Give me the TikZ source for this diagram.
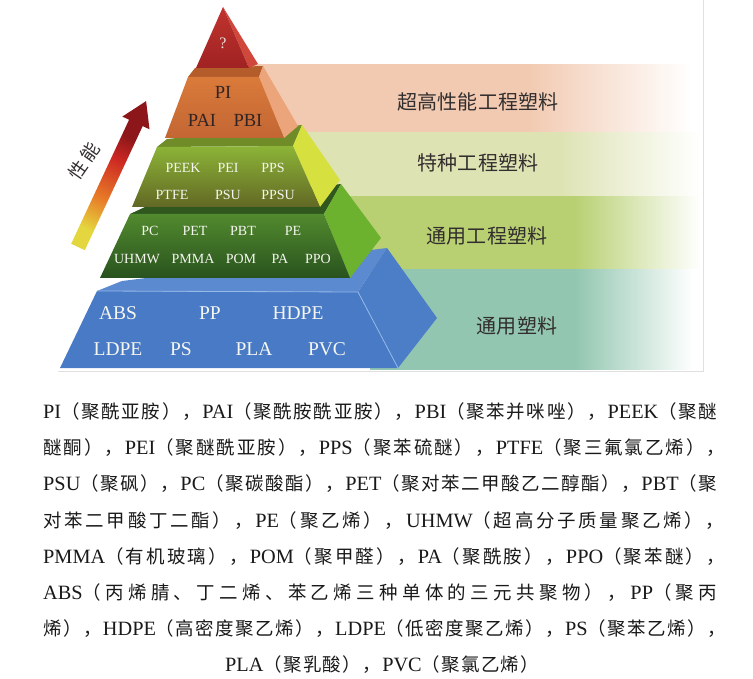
\documentclass[tikz,border=0pt]{standalone}
\usepackage{fontspec}
\setmainfont{Liberation Serif}
\newfontfamily\zhfont[Scale=0.91]{Noto Sans CJK SC}
\def\zhsp#1{\ifx#1\relax\else#1\hskip0pt plus 4pt\relax\expandafter\zhsp\fi}
\newcommand\zh[1]{{\zhfont\zhsp#1\relax}}
% band colours
\definecolor{bandA}{RGB}{242,202,178}
\definecolor{bandB}{RGB}{222,227,180}
\definecolor{bandC}{RGB}{184,208,114}
\definecolor{bandD}{RGB}{146,198,176}
% arrow colours
\definecolor{arY}{RGB}{228,214,62}
\definecolor{arO}{RGB}{232,125,40}
\definecolor{arR}{RGB}{205,40,35}
\definecolor{arD}{RGB}{140,22,25}
% pyramid colours
\definecolor{redFt}{RGB}{192,52,46}
\definecolor{redFb}{RGB}{160,34,34}
\definecolor{redS}{RGB}{208,72,60}
\definecolor{orT}{RGB}{180,92,42}
\definecolor{orFt}{RGB}{218,122,58}
\definecolor{orFb}{RGB}{194,102,52}
\definecolor{orS}{RGB}{236,165,122}
\definecolor{ygT}{RGB}{112,140,40}
\definecolor{ygFt}{RGB}{140,180,55}
\definecolor{ygFb}{RGB}{98,104,36}
\definecolor{ygS}{RGB}{214,224,62}
\definecolor{gT}{RGB}{48,88,30}
\definecolor{gFt}{RGB}{82,138,46}
\definecolor{gFb}{RGB}{40,82,30}
\definecolor{gS}{RGB}{108,178,46}
\definecolor{bT}{RGB}{92,138,208}
\definecolor{bF}{RGB}{72,122,198}
\definecolor{bS}{RGB}{76,126,200}
\definecolor{bL}{RGB}{150,185,232}
\definecolor{labW}{RGB}{246,246,240}
\definecolor{labD}{RGB}{50,36,36}
\definecolor{labQ}{RGB}{235,222,222}
\definecolor{bandtxt}{RGB}{50,46,46}
\definecolor{capc}{RGB}{25,25,25}
\pgfdeclarehorizontalshading{bandone}{100bp}{color(0bp)=(bandA); color(25bp)=(bandA); color(56bp)=(bandA); color(74bp)=(white); color(100bp)=(white)}
\pgfdeclarehorizontalshading{bandtwo}{100bp}{color(0bp)=(bandB); color(25bp)=(bandB); color(58bp)=(bandB); color(75bp)=(white); color(100bp)=(white)}
\pgfdeclarehorizontalshading{bandthree}{100bp}{color(0bp)=(bandC); color(25bp)=(bandC); color(58bp)=(bandC); color(75bp)=(white); color(100bp)=(white)}
\pgfdeclarehorizontalshading{bandfour}{100bp}{color(0bp)=(bandD); color(25bp)=(bandD); color(56bp)=(bandD); color(74bp)=(white); color(100bp)=(white)}
\pgfdeclareverticalshading{arrowshade}{100bp}{color(0bp)=(arY); color(27bp)=(arY); color(40bp)=(arO); color(57bp)=(arR); color(67bp)=(arD); color(100bp)=(arD)}
\begin{document}
\begin{tikzpicture}[x=1pt,y=-1pt,
  ylbl/.style={inner sep=0pt, text=labW, font=\fontsize{14}{16}\selectfont},
  olbl/.style={inner sep=0pt, text=labD, font=\fontsize{18.5}{20}\selectfont},
  blbl/.style={inner sep=0pt, text=labW, font=\fontsize{19.5}{22}\selectfont},
  bandlbl/.style={inner sep=0pt, text=bandtxt, font=\fontsize{22}{26}\zhfont},
  capline/.style={inner sep=0pt, anchor=base west, text width=674pt, align=justify, text=capc, font=\fontsize{20.3}{24}\selectfont},
  frame/.style={draw=black!12, line width=0.6pt}]
\useasboundingbox (0,0) rectangle (753,679);
% background bands
\shade[shading=bandone] (250,65) rectangle (700,133);
\shade[shading=bandtwo] (288,133) rectangle (700,197);
\shade[shading=bandthree] (330,197) rectangle (700,270);
\shade[shading=bandfour] (370,270) rectangle (700,369);
\draw[frame] (58,371) -- (703,371) -- (703,0);
% band labels
\node[bandlbl] (l1) at (478,102) {超高性能工程塑料};
\node[bandlbl] (l2) at (478,163) {特种工程塑料};
\node[bandlbl] (l3) at (487,236) {通用工程塑料};
\node[bandlbl] (l4) at (517,326) {通用塑料};
% blue tier
\fill[bT] (97,291) -- (122,281) -- (387,248) -- (358,292) -- cycle;
\fill[bS] (358,292) -- (387,248) -- (437,318) -- (398,368) -- cycle;
\fill[bF] (97,291) -- (358,292) -- (398,368) -- (60,368) -- cycle;
\draw[bL, line width=0.8pt] (97,291) -- (358,292) -- (398,368);
% green tier
\fill[gT] (130,214) -- (145,207) -- (341,184) -- (324,214) -- cycle;
\fill[gS] (324,214) -- (341,184) -- (381,238) -- (350,278) -- cycle;
\shade[top color=gFt, bottom color=gFb] (130,214) -- (324,214) -- (350,278) -- (100,278) -- cycle;
% yellow-green tier
\fill[ygT] (157,147) -- (167,139) -- (302,125) -- (293,146) -- cycle;
\fill[ygS] (293,146) -- (302,125) -- (340,180) -- (320,207) -- cycle;
\shade[top color=ygFt, bottom color=ygFb] (157,147) -- (293,146) -- (320,207) -- (132,207) -- cycle;
% orange tier
\fill[orT] (188,77) -- (195,68) -- (263,66) -- (259,77) -- cycle;
\fill[orS] (259,77) -- (263,66) -- (298,126) -- (284,138) -- cycle;
\shade[top color=orFt, bottom color=orFb] (188,77) -- (259,77) -- (284,138) -- (165,138) -- cycle;
% red tip
\fill[redS] (223,7) -- (258,64) -- (249,68) -- cycle;
\shade[top color=redFt, bottom color=redFb] (223,7) -- (249,68) -- (196,68) -- cycle;
% arrow
\shade[shading=arrowshade, shading angle=-25] (71.2,243.8) -- (129.1,119.7) -- (122.3,116.6) -- (146.1,101.1) -- (149.5,129.3) -- (142.7,126.1) -- (84.8,250.2) -- cycle;
\node[rotate=55, inner sep=0pt, text=bandtxt, font=\fontsize{20}{22}\zhfont] (perf) at (84,161) {性\kern3pt能};
% tier labels
\node[inner sep=0pt, text=labQ, font=\fontsize{16}{18}\selectfont] (q) at (223,43) {?};
\node[olbl] (pi) at (223,92) {PI};
\node[olbl] (pai) at (202,120) {PAI};
\node[olbl] (pbi) at (248,120) {PBI};
\node[ylbl] (peek) at (183,168) {PEEK};
\node[ylbl] (pei) at (228,168) {PEI};
\node[ylbl] (pps) at (273,168) {PPS};
\node[ylbl] (ptfe) at (172,195) {PTFE};
\node[ylbl] (psu) at (228,195) {PSU};
\node[ylbl] (ppsu) at (278,195) {PPSU};
\node[ylbl] (pc) at (150,231) {PC};
\node[ylbl] (pet) at (195,231) {PET};
\node[ylbl] (pbt) at (243,231) {PBT};
\node[ylbl] (pe) at (293,231) {PE};
\node[ylbl] (uhmw) at (137,259) {UHMW};
\node[ylbl] (pmma) at (193,259) {PMMA};
\node[ylbl] (pom) at (241,259) {POM};
\node[ylbl] (pa) at (280,259) {PA};
\node[ylbl] (ppo) at (318,259) {PPO};
\node[blbl] (abs) at (118,313) {ABS};
\node[blbl] (pp) at (210,313) {PP};
\node[blbl] (hdpe) at (298,313) {HDPE};
\node[blbl] (ldpe) at (118,349) {LDPE};
\node[blbl] (ps) at (181,349) {PS};
\node[blbl] (pla) at (254,349) {PLA};
\node[blbl] (pvc) at (327,349) {PVC};
% caption
\node[capline] (cap1) at (43,418.6) {\parfillskip=0pt\tolerance=9999\relax PI\zh{（聚酰亚胺），}PAI\zh{（聚酰胺酰亚胺），}PBI\zh{（聚苯并咪唑），}PEEK\zh{（聚醚}\par};
\node[capline] (cap2) at (43,454.8) {\parfillskip=0pt\tolerance=9999\relax \zh{醚酮），}PEI\zh{（聚醚酰亚胺），}PPS\zh{（聚苯硫醚），}PTFE\zh{（聚三氟氯乙烯），}\kern-10pt\par};
\node[capline] (cap3) at (43,490.9) {\parfillskip=0pt\tolerance=9999\relax PSU\zh{（聚砜），}PC\zh{（聚碳酸酯），}PET\zh{（聚对苯二甲酸乙二醇酯），}PBT\zh{（聚}\par};
\node[capline] (cap4) at (43,527.1) {\parfillskip=0pt\tolerance=9999\relax \zh{对苯二甲酸丁二酯），}PE\zh{（聚乙烯），}UHMW\zh{（超高分子质量聚乙烯），}\kern-10pt\par};
\node[capline] (cap5) at (43,563.2) {\parfillskip=0pt\tolerance=9999\relax PMMA\zh{（有机玻璃），}POM\zh{（聚甲醛），}PA\zh{（聚酰胺），}PPO\zh{（聚苯醚），}\kern-10pt\par};
\node[capline] (cap6) at (43,599.4) {\parfillskip=0pt\tolerance=9999\relax ABS\zh{（丙烯腈、丁二烯、苯乙烯三种单体的三元共聚物），}PP\zh{（聚丙}\par};
\node[capline] (cap7) at (43,635.5) {\parfillskip=0pt\tolerance=9999\relax \zh{烯），}HDPE\zh{（高密度聚乙烯），}LDPE\zh{（低密度聚乙烯），}PS\zh{（聚苯乙烯），}\kern-10pt\par};
\node[inner sep=0pt, anchor=base west, text=capc, font=\fontsize{20.3}{24}\selectfont] (cap8) at (225,671.7) {\makebox[314pt][s]{PLA\zh{（聚乳酸），}PVC{\zhfont\zhsp（聚氯乙烯\relax）}}};
\end{tikzpicture}
\end{document}
